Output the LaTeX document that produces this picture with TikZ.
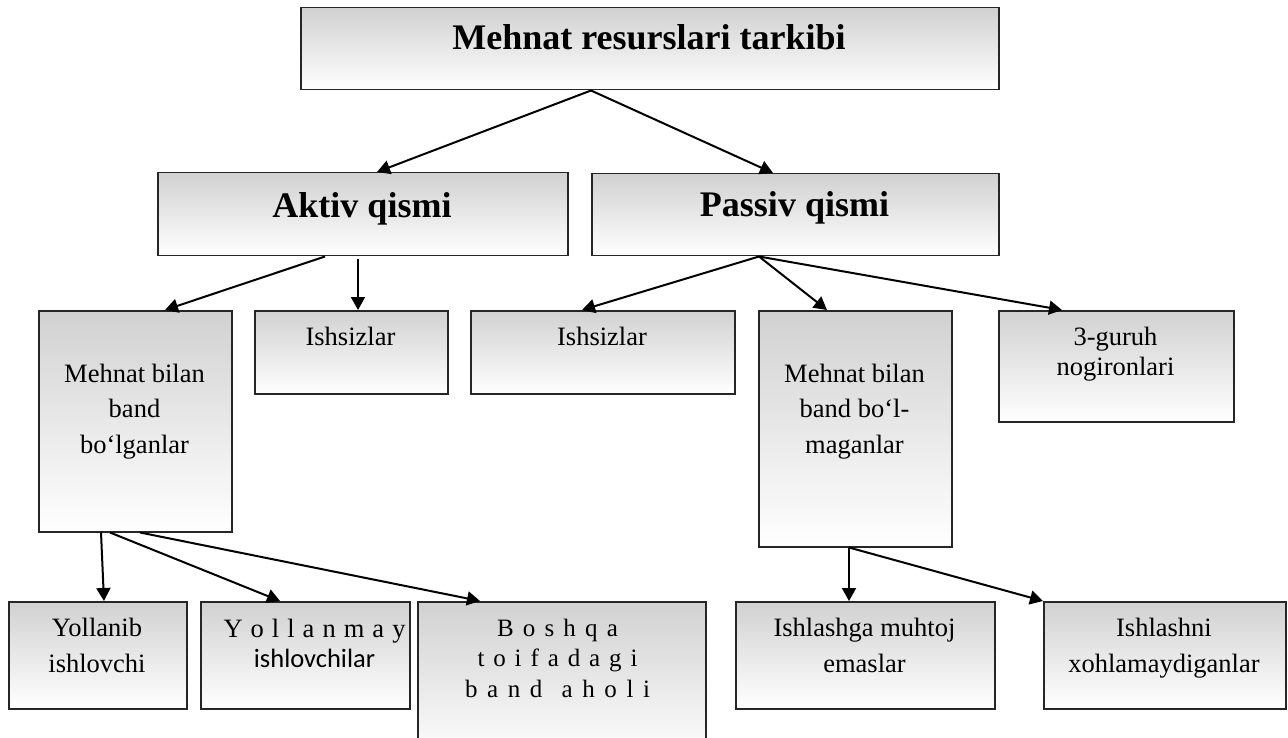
\documentclass[tikz,border=0pt]{standalone}
\usepackage{fontspec}
\setmainfont{Liberation Serif}
\newfontfamily\calibri{Carlito}
\usetikzlibrary{arrows.meta,calc}
\begin{document}
\begin{tikzpicture}[x=1pt,y=-1pt,
  box/.style={rectangle, draw=black!85, line width=1.5pt, top color=black!18,
    bottom color=white, inner sep=0pt, anchor=north west},
  arr/.style={line width=2pt, -{Triangle[length=13pt,width=14pt]}},
  head/.style={font=\fontsize{36}{40}\selectfont\bfseries, anchor=base, inner sep=0pt},
  txt/.style={font=\fontsize{26.5}{35.5}\selectfont, anchor=base, align=center, inner sep=0pt},
  txtb/.style={font=\fontsize{26.5}{30}\selectfont, anchor=base, align=center, inner sep=0pt},
  txts/.style={font=\fontsize{25}{30.5}\selectfont, anchor=base, align=center, inner sep=0pt},
]
\useasboundingbox (0,0) rectangle (1288,738);
\clip (0,0) rectangle (1288,738);

% boxes
\node[box, minimum width=698pt, minimum height=82pt] (top) at (300,7) {};
\node[box, minimum width=410pt, minimum height=83pt] (akt) at (157,172) {};
\node[box, minimum width=407pt, minimum height=82pt] (pas) at (591,173) {};
\node[box, minimum width=193pt, minimum height=221pt] (m1) at (38,310) {};
\node[box, minimum width=193pt, minimum height=83pt] (i1) at (254,310) {};
\node[box, minimum width=264pt, minimum height=83pt] (i2) at (470,310) {};
\node[box, minimum width=193pt, minimum height=236pt] (m2) at (758,310) {};
\node[box, minimum width=235pt, minimum height=111pt] (g3) at (998,310) {};
\node[box, minimum width=178pt, minimum height=107pt] (y1) at (8,601) {};
\node[box, minimum width=209pt, minimum height=107pt] (y2) at (200,601) {};
\node[box, minimum width=288pt, minimum height=160pt] (bo) at (417,601) {};
\node[box, minimum width=259pt, minimum height=107pt] (ish1) at (735,601) {};
\node[box, minimum width=242pt, minimum height=107pt] (ish2) at (1043,601) {};

% labels (multi-line labels are placed by the baseline of their last line)
\node[head] (top-t) at (649,50) {Mehnat resurslari tarkibi};
\node[head] (akt-t) at (362,218) {Aktiv qismi};
\node[head] (pas-t) at (794.5,217) {Passiv qismi};
\node[txt] (m1-t) at (134.5,453) {Mehnat bilan\\band\\bo‘lganlar};
\node[txt] (i1-t) at (350.5,345) {Ishsizlar};
\node[txt] (i2-t) at (602,345) {Ishsizlar};
\node[txt] (m2-t) at (854.5,453) {Mehnat bilan\\band bo‘l-\\maganlar};
\node[txtb] (g3-t) at (1115.5,375) {3-guruh\\nogironlari};
\node[txt] (y1-t) at (97,672) {Yollanib\\ishlovchi};
\node[txtb] (y2-t) at (314.5,667) {\makebox[182pt][s]{Y o l l a n m a y}\\{\calibri ishlovchilar}};
\node[txts] (bo-t) at (557.5,697) {\makebox[121pt][s]{B o s h q a}\\\makebox[160pt][s]{t o i f a d a g i}\\\makebox[185pt][s]{b a n d\ \ a h o l i}};
\node[txt] (ish1-t) at (864.5,672) {Ishlashga muhtoj\\emaslar};
\node[txt] (ish2-t) at (1164,672) {Ishlashni\\xohlamaydiganlar};

% connectors
\draw[arr] ([xshift=291pt]top.south west) -- ([xshift=220pt]akt.north west);
\draw[arr] ([xshift=291pt]top.south west) -- ([xshift=182pt]pas.north west);
\draw[arr] ([xshift=168pt]akt.south west) -- ([xshift=127pt]m1.north west);
\draw[arr] ([xshift=201pt,yshift=-3pt]akt.south west) -- ([xshift=104pt]i1.north west);
\draw[arr] ([xshift=168pt]pas.south west) -- ([xshift=112pt]i2.north west);
\draw[arr] ([xshift=168pt]pas.south west) -- ([xshift=69pt]m2.north west);
\draw[arr] ([xshift=168pt]pas.south west) -- ([xshift=64pt]g3.north west);
\draw[arr] ([xshift=63pt]m1.south west) -- ([xshift=96pt]y1.north west);
\draw[arr] ([xshift=72pt]m1.south west) -- ([xshift=80pt]y2.north west);
\draw[arr] ([xshift=102pt]m1.south west) -- ([xshift=63pt]bo.north west);
\draw[arr] ([xshift=91pt]m2.south west) -- ([xshift=114pt]ish1.north west);
\draw[arr] ([xshift=91pt]m2.south west) -- (ish2.north west);
\end{tikzpicture}
\end{document}
